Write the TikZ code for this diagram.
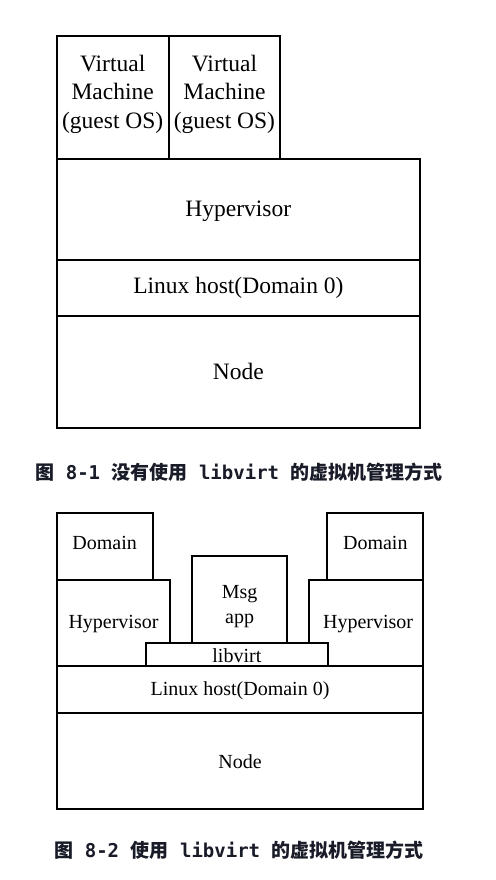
\documentclass[tikz,border=0pt]{standalone}
\usepackage{fontspec}
\setmainfont{Liberation Serif}
\newfontfamily\cjk{Noto Sans CJK SC}
\newfontfamily\capmono{DejaVu Sans Mono}
\usetikzlibrary{calc}
\definecolor{capcol}{RGB}{25,28,40}
\tikzset{
  box/.style={draw=black, fill=white, line width=2.2pt, inner sep=0pt, outer sep=0pt, rectangle},
  big/.style={font=\fontsize{23.5}{28.7}\selectfont, align=center, inner sep=0pt},
  small/.style={font=\fontsize{20}{25}\selectfont, align=center, inner sep=0pt},
  captxt/.style={font=\fontsize{19}{22}\selectfont\bfseries, text=capcol, inner sep=0pt}
}
\begin{document}
\begin{tikzpicture}[x=1pt,y=-1pt]
\useasboundingbox[fill=white] (0,0) rectangle (495,880);
% ---- top diagram ----
\node[box, minimum width=112pt, minimum height=123pt] (vm1) at (112.7,97.2) {};
\node[box, minimum width=111.6pt, minimum height=123pt] (vm2) at (224.5,97.2) {};
\node[box, minimum width=363.3pt, minimum height=101.3pt] (hyp) at (238.35,209.35) {};
\node[box, minimum width=363.3pt, minimum height=55.7pt] (lin) at (238.35,287.85) {};
\node[box, minimum width=363.3pt, minimum height=112.3pt] (node) at (238.35,371.85) {};
\node[big] (vm1t) at ($(vm1.center)+(0,-3)$) {Virtual\\Machine\\(guest OS)};
\node[big] (vm2t) at ($(vm2.center)+(0,-3)$) {Virtual\\Machine\\(guest OS)};
\node[big] (hypt) at ($(hyp.center)+(0,2)$) {Hypervisor};
\node[big] (lint) at (lin.center) {Linux host(Domain 0)};
\node[big] (nodet) at (node.center) {Node};
\node[captxt] (cap1) at (239,471.7) {{\cjk 图}{\capmono\ 8-1 }{\cjk 没有使用}{\capmono\ libvirt }{\cjk 的虚拟机管理方式}};
% ---- bottom diagram ----
\node[box, minimum width=96pt, minimum height=66.7pt] (doml) at (104.7,546.65) {};
\node[box, minimum width=96pt, minimum height=66.7pt] (domr) at (375.3,546.65) {};
\node[box, minimum width=113.6pt, minimum height=85.7pt] (hypl) at (113.5,622.85) {};
\node[box, minimum width=114.3pt, minimum height=85.7pt] (hypr) at (366.15,622.85) {};
\node[box, minimum width=95.3pt, minimum height=86.7pt] (msg) at (239.65,599.35) {};
\node[box, minimum width=181.7pt, minimum height=23pt] (lib) at (236.85,654.2) {};
\node[box, minimum width=366.6pt, minimum height=47.6pt] (lin2) at (240,689.5) {};
\node[box, minimum width=366.6pt, minimum height=96pt] (node2) at (240,761.3) {};
\node[small] (domlt) at ($(doml.center)+(0,-4)$) {Domain};
\node[small] (domrt) at ($(domr.center)+(0,-4)$) {Domain};
\node[small] (hyplt) at ($(hypl.center)+(0,1)$) {Hypervisor};
\node[small] (hyprt) at ($(hypr.center)+(2,1)$) {Hypervisor};
\node[small] (msgt) at ($(msg.center)+(0,7)$) {Msg\\app};
\node[small] (libt) at ($(lib.center)+(0,1)$) {libvirt};
\node[small] (lin2t) at ($(lin2.center)+(0,1)$) {Linux host(Domain 0)};
\node[small] (node2t) at (node2.center) {Node};
\node[captxt] (cap2) at (239,850) {{\cjk 图}{\capmono\ 8-2 }{\cjk 使用}{\capmono\ libvirt }{\cjk 的虚拟机管理方式}};
\end{tikzpicture}
\end{document}
